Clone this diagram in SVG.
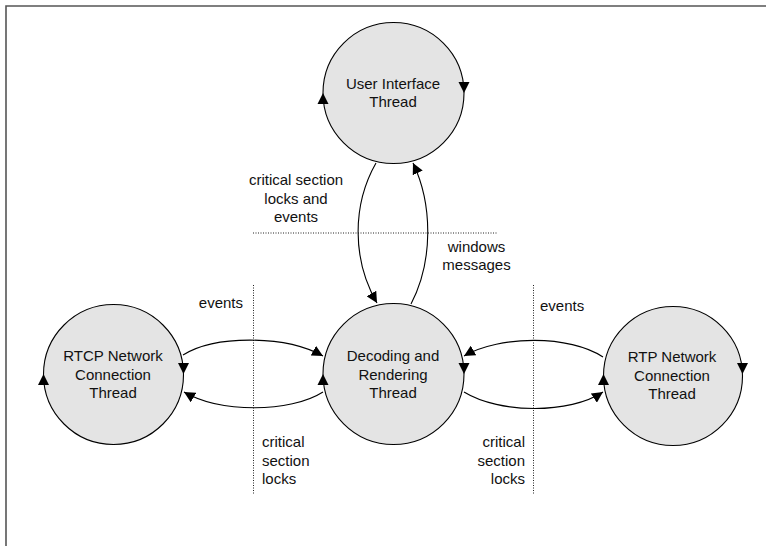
<svg xmlns="http://www.w3.org/2000/svg" xmlns:xlink="http://www.w3.org/1999/xlink" width="766" height="546" viewBox="0 0 766 546">
<style>
  .node { fill: #e4e4e4; stroke: #000; stroke-width: 1.1; }
  .lbl { font-family: "Liberation Sans", Arial, sans-serif; font-size: 15px; fill: #111; }
  .mid { text-anchor: middle; }
  .end { text-anchor: end; }
  .conn { fill: none; stroke: #000; stroke-width: 1.1; }
  .dot { fill: none; stroke: #222; stroke-width: 1; stroke-dasharray: 1 1.5; }
  .frame { fill: none; stroke: #555; stroke-width: 1.6; }
  .tri { fill: #000; }
</style>
<defs>
  <marker id="arr" viewBox="0 0 11 11" refX="11" refY="5.5" markerWidth="11" markerHeight="11" markerUnits="userSpaceOnUse" orient="auto">
    <path d="M0,0 L11,5.5 L0,11 Z" fill="#000"/>
  </marker>
  <path id="tri" d="M0,0 L-11,-5.5 L-11,5.5 Z"/>
</defs>
<rect width="766" height="546" fill="#fff"/>
<path class="frame" d="M6,546 L6,6 L766,6"/>

<g id="separators">
  <line class="dot" x1="253" y1="233" x2="498" y2="233"/>
  <line class="dot" x1="253.5" y1="285" x2="253.5" y2="495"/>
  <line class="dot" x1="533.5" y1="285" x2="533.5" y2="495"/>
</g>

<g id="ui">
  <circle class="node" cx="393.5" cy="93" r="70.5"/>
  <use xlink:href="#tri" class="tri" transform="translate(323,93) rotate(-90)"/>
  <use xlink:href="#tri" class="tri" transform="translate(464,93) rotate(90)"/>
  <text class="lbl mid" x="393" y="89">User Interface</text>
  <text class="lbl mid" x="393" y="107">Thread</text>
</g>

<g id="decoding">
  <circle class="node" cx="393.5" cy="374" r="70.5"/>
  <use xlink:href="#tri" class="tri" transform="translate(323,374) rotate(-90)"/>
  <use xlink:href="#tri" class="tri" transform="translate(464,374) rotate(90)"/>
  <text class="lbl mid" x="393" y="361">Decoding and</text>
  <text class="lbl mid" x="393" y="379.5">Rendering</text>
  <text class="lbl mid" x="393" y="398">Thread</text>
</g>

<g id="rtcp">
  <circle class="node" cx="113.5" cy="374.5" r="70"/>
  <use xlink:href="#tri" class="tri" transform="translate(43.5,374) rotate(-90)"/>
  <use xlink:href="#tri" class="tri" transform="translate(183.5,374) rotate(90)"/>
  <text class="lbl mid" x="113" y="361">RTCP Network</text>
  <text class="lbl mid" x="113" y="379.5">Connection</text>
  <text class="lbl mid" x="113" y="398">Thread</text>
</g>

<g id="rtp">
  <circle class="node" cx="673" cy="376" r="69.5"/>
  <use xlink:href="#tri" class="tri" transform="translate(603.5,374) rotate(-90)"/>
  <use xlink:href="#tri" class="tri" transform="translate(742.5,374) rotate(90)"/>
  <text class="lbl mid" x="672" y="362">RTP Network</text>
  <text class="lbl mid" x="672" y="380.5">Connection</text>
  <text class="lbl mid" x="672" y="399">Thread</text>
</g>

<g id="connectors">
  <path class="conn" marker-end="url(#arr)" d="M376,163 C352,205 352,260 377,303"/>
  <path class="conn" marker-end="url(#arr)" d="M411,304 C433,262 433,205 413,163"/>
  <path class="conn" marker-end="url(#arr)" d="M183,355 C215,335 285,335 323,356"/>
  <path class="conn" marker-end="url(#arr)" d="M323,392 C290,413 220,413 184,392"/>
  <path class="conn" marker-end="url(#arr)" d="M603,357 C570,335 500,335 464,356"/>
  <path class="conn" marker-end="url(#arr)" d="M464,392 C500,414 570,414 603,392"/>
</g>

<g id="labels">
  <text class="lbl mid" x="296" y="185">critical section</text>
  <text class="lbl mid" x="296" y="203.5">locks and</text>
  <text class="lbl mid" x="296" y="222">events</text>
  <text class="lbl mid" x="476.5" y="252">windows</text>
  <text class="lbl mid" x="476.5" y="270">messages</text>
  <text class="lbl end" x="243" y="308">events</text>
  <text class="lbl" x="540" y="311">events</text>
  <text class="lbl" x="262" y="447">critical</text>
  <text class="lbl" x="262" y="466">section</text>
  <text class="lbl" x="262" y="484">locks</text>
  <text class="lbl end" x="525" y="447">critical</text>
  <text class="lbl end" x="525" y="466">section</text>
  <text class="lbl end" x="525" y="484">locks</text>
</g>
</svg>
